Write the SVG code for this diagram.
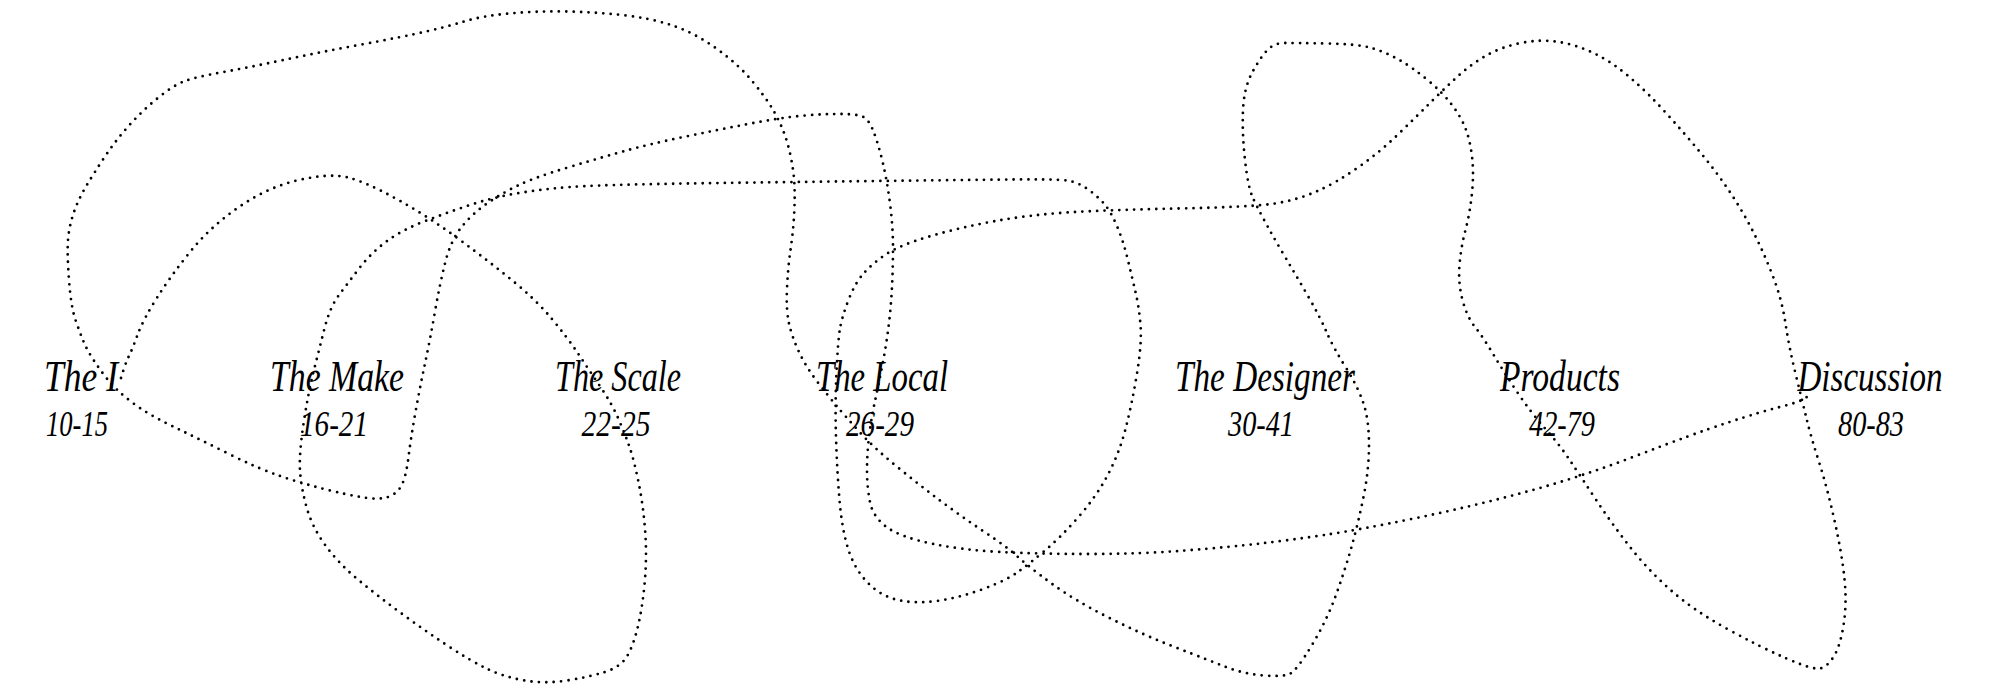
<svg xmlns="http://www.w3.org/2000/svg" width="1991" height="687" viewBox="0 0 1991 687">
<style>
.loop{fill:none;stroke:#000;stroke-width:2.8;stroke-linecap:round;stroke-linejoin:round;stroke-dasharray:0 7.4}
.t{font-family:"Liberation Serif","Times New Roman",serif;font-style:italic;fill:#000;text-anchor:middle}
.title{font-size:45px}
.num{font-size:36px}
</style>
<rect width="1991" height="687" fill="#fff"/>
<g id="connectors">
<path class="loop" d="M121 378 L123.5 370 Q126 362 129 356 Q132 350 137.5 335 Q143 320 156.5 298.5 Q170 277 190 252 Q210 227 239 207 Q268 187 299 180 Q330 173 348 177.5 Q366 182 397.5 199.5 Q429 217 460 240 Q491 263 513.5 281.5 Q536 300 551.5 318.5 Q567 337 578 353.5 Q589 370 600.5 387 Q612 404 618.5 419 Q625 434 629.5 447 Q634 460 638.5 482 Q643 504 645 529 Q647 554 645 579 Q643 604 638.5 624 Q634 644 627.5 655.5 Q621 667 605 672 Q589 677 567 680.5 Q545 684 524.5 680.5 Q504 677 486.5 668.5 Q469 660 446.5 645 Q424 630 401.5 613.5 Q379 597 359 580.5 Q339 564 325.5 545.5 Q312 527 306.5 507 Q301 487 300 470.5 Q299 454 303.5 424 Q308 394 313.5 372 Q319 350 324.5 328.5 Q330 307 339 295 Q348 283 359.5 268 Q371 253 386.5 241.5 Q402 230 424 221.5 Q446 213 468.5 205.5 Q491 198 513.5 194 Q536 190 558 188 Q580 186 615 185 Q650 184 721.5 183 Q793 182 878 181 Q963 180 1012 179.5 Q1061 179 1070 181 Q1079 183 1087.5 189 Q1096 195 1103 202.5 Q1110 210 1116.5 225 Q1123 240 1127.5 258.5 Q1132 277 1135.5 292 Q1139 307 1140.5 325 Q1142 343 1137 373.5 Q1132 404 1125.5 429 Q1119 454 1107.5 475.5 Q1096 497 1078.5 517 Q1061 537 1045 550.5 Q1029 564 1018 572 Q1007 580 984.5 588.5 Q962 597 940 600.5 Q918 604 900 600.5 Q882 597 868.5 583.5 Q855 570 848.5 550 Q842 530 839.5 500 Q837 470 836 437 Q835 404 836.5 372 Q838 340 840 328.5 Q842 317 848.5 300 Q855 283 864 273 Q873 263 886.5 254 Q900 245 931 236 Q962 227 995.5 221 Q1029 215 1067 212.5 Q1105 210 1179 208.5 Q1253 207 1275 203.5 Q1297 200 1316.5 191.5 Q1336 183 1358 167.5 Q1380 152 1398 134.5 Q1416 117 1429.5 103.5 Q1443 90 1456.5 77.5 Q1470 65 1485.5 56 Q1501 47 1521 43 Q1541 39 1559 42 Q1577 45 1594.5 53.5 Q1612 62 1630 77.5 Q1648 93 1666 113 Q1684 133 1699.5 151.5 Q1715 170 1728.5 190 Q1742 210 1753 231.5 Q1764 253 1773 276.5 Q1782 300 1785.5 323.5 Q1789 347 1795.5 373.5 Q1802 400 1806.5 418.5 Q1811 437 1819 462 Q1827 487 1834.5 520.5 Q1842 554 1844.5 579 Q1847 604 1843.5 625.5 Q1840 647 1833.5 657 Q1827 667 1820 668.5 Q1813 670 1786.5 658.5 Q1760 647 1726.5 628.5 Q1693 610 1670.5 590 Q1648 570 1630 547 Q1612 524 1596.5 500.5 Q1581 477 1570 460.5 Q1559 444 1545.5 429 Q1532 414 1518.5 394 Q1505 374 1494 355.5 Q1483 337 1475 327 Q1467 317 1462.5 300 Q1458 283 1459.5 265 Q1461 247 1465.5 230 Q1470 213 1472 193 Q1474 173 1472 156.5 Q1470 140 1465.5 128.5 Q1461 117 1452 105 Q1443 93 1427.5 80 Q1412 67 1398.5 59.5 Q1385 52 1371.5 48 Q1358 44 1326.5 43.5 Q1295 43 1285 43 Q1275 43 1268.5 49 Q1262 55 1253 71 Q1244 87 1243 110 Q1242 133 1245 160 Q1248 187 1252.5 197 Q1257 207 1266 223.5 Q1275 240 1286 258.5 Q1297 277 1308.5 297 Q1320 317 1326.5 332 Q1333 347 1345.5 367 Q1358 387 1363.5 403.5 Q1369 420 1369 445 Q1369 470 1363.5 497 Q1358 524 1351.5 547 Q1345 570 1336 595 Q1327 620 1312 645 Q1297 670 1290.5 673.5 Q1284 677 1264 675.5 Q1244 674 1226 667 Q1208 660 1174.5 647 Q1141 634 1107.5 617 Q1074 600 1051.5 583.5 Q1029 567 1018 557 Q1007 547 984.5 532 Q962 517 940 500.5 Q918 484 895.5 465.5 Q873 447 859.5 432 Q846 417 837.5 407 Q829 397 817.5 382 Q806 367 799 352 Q792 337 789 323.5 Q786 310 787 288.5 Q788 267 790.5 250 Q793 233 794 216.5 Q795 200 794.5 186.5 Q794 173 791 158 Q788 143 783.5 131.5 Q779 120 772.5 109 Q766 98 752.5 81.5 Q739 65 717 49 Q695 33 672.5 25.5 Q650 18 622 15 Q594 12 565 11.5 Q536 11 509 13.5 Q482 16 464 21.5 Q446 27 424 32 Q402 37 361.5 44.5 Q321 52 283.5 60 Q246 68 221 72.5 Q196 77 185 81 Q174 85 158.5 97.5 Q143 110 129.5 125 Q116 140 105 156.5 Q94 173 86 186.5 Q78 200 73.5 213.5 Q69 227 68 240 Q67 253 69 280 Q71 307 75.5 320 Q80 333 83.5 341.5 Q87 350 93.5 360 Q100 370 108 380 Q116 390 131.5 402 Q147 414 174 427 Q201 440 230 454.5 Q259 469 281.5 476.5 Q304 484 326 489.5 Q348 495 363.5 497.5 Q379 500 388 497 Q397 494 401.5 485.5 Q406 477 408.5 457 Q411 437 415.5 412 Q420 387 425 363.5 Q430 340 435 311.5 Q440 283 445.5 261.5 Q451 240 462 226.5 Q473 213 488.5 202.5 Q504 192 520 184.5 Q536 177 569.5 167 Q603 157 626.5 150.5 Q650 144 683.5 137 Q717 130 748 124 Q779 118 799.5 116 Q820 114 839 114 Q858 114 863.5 117 Q869 120 873.5 131.5 Q878 143 882.5 161.5 Q887 180 890 203.5 Q893 227 893 247 Q893 267 892 287 Q891 307 888.5 327 Q886 347 882 367 Q878 387 874.5 403.5 Q871 420 869 437 Q867 454 867 470.5 Q867 487 870 502 Q873 517 886.5 527 Q900 537 931 543.5 Q962 550 1000 552 Q1038 554 1089.5 554 Q1141 554 1185.5 550.5 Q1230 547 1260.5 543.5 Q1291 540 1324.5 535 Q1358 530 1414 518.5 Q1470 507 1525.5 492 Q1581 477 1637 455.5 Q1693 434 1726.5 423 Q1760 412 1780 407 Q1800 402 1805.5 398 L1811 394"/>
</g>
<g id="node-the-i"><text class="t title" x="81" y="391" textLength="74" lengthAdjust="spacingAndGlyphs">The I</text><text class="t num" x="77" y="436" textLength="62" lengthAdjust="spacingAndGlyphs">10-15</text></g>
<g id="node-the-make"><text class="t title" x="337" y="391" textLength="134" lengthAdjust="spacingAndGlyphs">The Make</text><text class="t num" x="334" y="436" textLength="68" lengthAdjust="spacingAndGlyphs">16-21</text></g>
<g id="node-the-scale"><text class="t title" x="618" y="391" textLength="126" lengthAdjust="spacingAndGlyphs">The Scale</text><text class="t num" x="616" y="436" textLength="69" lengthAdjust="spacingAndGlyphs">22-25</text></g>
<g id="node-the-local"><text class="t title" x="882" y="391" textLength="132" lengthAdjust="spacingAndGlyphs">The Local</text><text class="t num" x="880" y="436" textLength="68" lengthAdjust="spacingAndGlyphs">26-29</text></g>
<g id="node-the-designer"><text class="t title" x="1265" y="391" textLength="180" lengthAdjust="spacingAndGlyphs">The Designer</text><text class="t num" x="1261" y="436" textLength="66" lengthAdjust="spacingAndGlyphs">30-41</text></g>
<g id="node-products"><text class="t title" x="1560" y="391" textLength="120" lengthAdjust="spacingAndGlyphs">Products</text><text class="t num" x="1562" y="436" textLength="66" lengthAdjust="spacingAndGlyphs">42-79</text></g>
<g id="node-discussion"><text class="t title" x="1870" y="391" textLength="145" lengthAdjust="spacingAndGlyphs">Discussion</text><text class="t num" x="1871" y="436" textLength="66" lengthAdjust="spacingAndGlyphs">80-83</text></g>
</svg>
